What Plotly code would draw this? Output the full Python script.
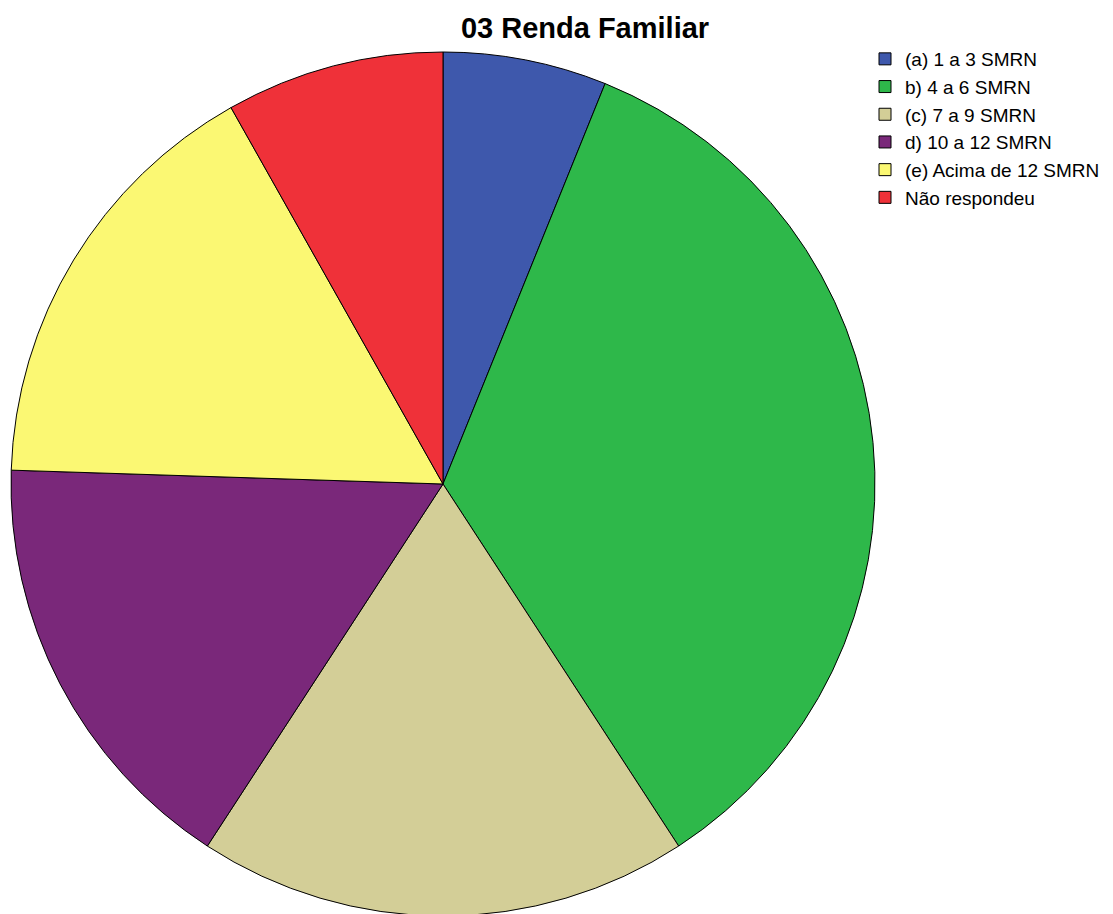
import plotly.graph_objects as go

categories = ["(a) 1 a 3 SMRN", "b) 4 a 6 SMRN", "(c) 7 a 9 SMRN",
              "d) 10 a 12 SMRN", "(e) Acima de 12 SMRN", "Não respondeu"]
counts = [3, 17, 9, 8, 8, 4]
colors = ["#3E58AC", "#2EB84A", "#D3CE97", "#7A287A", "#FBF873", "#EF3139"]
title_text = "03 Renda Familiar"

W, H = 1113, 920
cx, cy, r = 443, 484, 432

fig = go.Figure(go.Pie(
    labels=categories,
    values=counts,
    sort=False,
    direction="clockwise",
    rotation=0,
    marker=dict(colors=colors, line=dict(color="#000000", width=1)),
    textinfo="none",
    hoverinfo="label+value+percent",
    domain=dict(x=[(cx - r) / W, (cx + r) / W],
                y=[1 - (cy + r) / H, 1 - (cy - r) / H]),
))

fig.update_layout(
    width=W, height=H,
    margin=dict(l=0, r=0, t=0, b=0),
    paper_bgcolor="white", plot_bgcolor="white",
    font=dict(family="Liberation Sans, Arial, sans-serif", color="#000000"),
    title=dict(text="<b>" + title_text + "</b>", x=585 / W, xanchor="center",
               xref="paper", y=1 - 28 / H, yref="container", yanchor="middle",
               font=dict(size=29, color="#000000")),
    legend=dict(x=865 / W, xanchor="left", y=1 - 40 / H, yanchor="top",
                font=dict(size=19, color="#000000"),
                bgcolor="rgba(0,0,0,0)", itemclick=False, tracegroupgap=0),
    showlegend=True,
)

fig.write_html("out.html", config={"displayModeBar": False},
               post_script="document.body.style.margin='0';document.body.style.overflow='hidden';")
